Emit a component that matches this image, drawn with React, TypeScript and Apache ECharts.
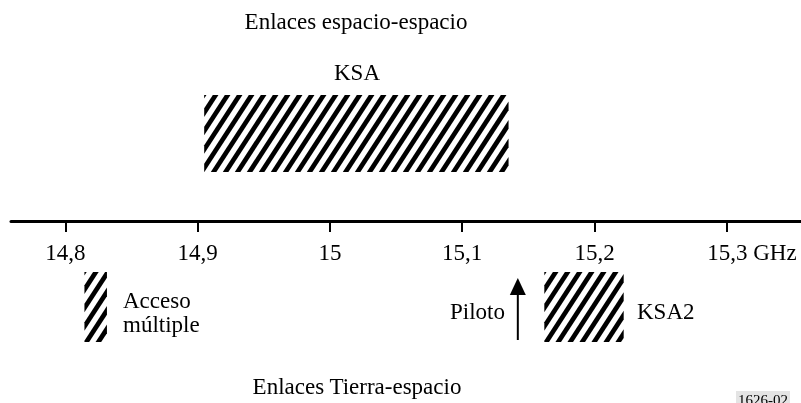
import React, { useEffect, useRef } from "react";
import * as echarts from "echarts";

const freqMin = 14.759;
const freqMax = 15.356;
const tickValues = [14.8, 14.9, 15.0, 15.1, 15.2, 15.3];
const tickLabels = ["14,8", "14,9", "15", "15,1", "15,2", "15,3 GHz"];

const bandNames = ["KSA", "Acceso múltiple", "KSA2"];
const bandStart = [14.905, 14.8145, 15.162];
const bandEnd = [15.135, 14.8315, 15.222];
const bandTop = [126, -51, -51];
const bandBottom = [49, -121, -121];

const pilotFreq = [15.142];
const pilotBottom = [-119];
const pilotTop = [-57];

const FONT = "Liberation Serif, Times New Roman, serif";
const FS = 23;

type P = [number, number];

function clipHalf(pts: P[], g: (p: P) => number): P[] {
  const out: P[] = [];
  for (let i = 0; i < pts.length; i++) {
    const a = pts[i];
    const b = pts[(i + 1) % pts.length];
    const ga = g(a);
    const gb = g(b);
    if (ga >= 0) out.push(a);
    if ((ga >= 0) !== (gb >= 0)) {
      const t = ga / (ga - gb);
      out.push([a[0] + (b[0] - a[0]) * t, a[1] + (b[1] - a[1]) * t]);
    }
  }
  return out;
}

export default function App() {
  const ref = useRef<HTMLDivElement>(null);
  useEffect(() => {
    if (!ref.current) return;
    const chart = echarts.init(ref.current, undefined, { renderer: "svg" });
    const bandData = bandNames.map((n, i) => ({
      name: n,
      value: [bandStart[i], bandEnd[i], bandTop[i], bandBottom[i]],
    }));
    const pilotData = pilotFreq.map((f, i) => [f, pilotBottom[i], pilotTop[i]]);

    const hatch = (params: any, api: any) => {
      const [L, T] = api.coord([api.value(0), api.value(2)]);
      const [R, B] = api.coord([api.value(1), api.value(3)]);
      const k = 0.65;
      const period = 12;
      const w = 5.6;
      const rect: P[] = [
        [L, T],
        [R, T],
        [R, B],
        [L, B],
      ];
      const cMin = L + k * T;
      const cMax = R + k * B;
      const children: any[] = [];
      for (let c = cMin - w * 0.6; c < cMax; c += period) {
        let poly = clipHalf(rect, (p) => p[0] + k * p[1] - c);
        poly = clipHalf(poly, (p) => c + w - (p[0] + k * p[1]));
        if (poly.length >= 3) {
          children.push({
            type: "polygon",
            shape: { points: poly },
            style: { fill: "#000" },
          });
        }
      }
      return { type: "group", children };
    };

    const arrow = (params: any, api: any) => {
      const [x, yb] = api.coord([api.value(0), api.value(1)]);
      const [, yt] = api.coord([api.value(0), api.value(2)]);
      const headH = 17;
      const headW = 16;
      return {
        type: "group",
        children: [
          {
            type: "line",
            shape: { x1: x, y1: yb, x2: x, y2: yt + headH - 1 },
            style: { stroke: "#000", lineWidth: 2 },
          },
          {
            type: "polygon",
            shape: {
              points: [
                [x, yt],
                [x - headW / 2, yt + headH],
                [x + headW / 2, yt + headH],
              ],
            },
            style: { fill: "#000" },
          },
        ],
      };
    };

    const txt = (text: string, x: number, y: number, align: string, size = FS) => ({
      type: "text",
      x,
      y,
      style: {
        text,
        fontFamily: FONT,
        fontSize: size,
        fill: "#000",
        align,
        verticalAlign: "middle",
      },
    });

    chart.setOption({
      animation: false,
      grid: {
        left: 11,
        right: 0,
        top: 0,
        height: 221,
        outerBoundsMode: "none",
        containLabel: false,
      },
      xAxis: {
        type: "value",
        min: freqMin,
        max: freqMax,
        splitLine: { show: false },
        axisLine: { show: true, onZero: false, lineStyle: { color: "#000", width: 3 } },
        axisTick: {
          show: true,
          customValues: tickValues,
          length: 11,
          lineStyle: { color: "#000", width: 2 },
        },
        axisLabel: {
          customValues: tickValues,
          margin: 20,
          color: "#000",
          fontFamily: FONT,
          fontSize: FS,
          formatter: (v: number) => {
            let idx = 0;
            let best = Infinity;
            tickValues.forEach((t, i) => {
              if (Math.abs(t - v) < best) {
                best = Math.abs(t - v);
                idx = i;
              }
            });
            return idx === tickValues.length - 1
              ? "{sp|}" + tickLabels[idx]
              : tickLabels[idx];
          },
          rich: { sp: { width: 50 } },
        },
      },
      yAxis: {
        type: "value",
        min: 0,
        max: 221,
        show: false,
      },
      series: [
        {
          type: "custom",
          name: "bands",
          renderItem: hatch,
          data: bandData,
          encode: { x: [0, 1], y: [2, 3] },
          clip: false,
          silent: true,
        },
        {
          type: "custom",
          name: "pilot",
          renderItem: arrow,
          data: pilotData,
          encode: { x: 0, y: [1, 2] },
          clip: false,
          silent: true,
        },
      ],
      graphic: [
        txt("Enlaces espacio-espacio", 356, 21, "center"),
        txt("KSA", 357, 72, "center"),
        txt("Acceso", 123, 300, "left"),
        txt("múltiple", 123, 324, "left"),
        txt("Piloto", 505, 311, "right"),
        txt("KSA2", 637, 311, "left"),
        txt("Enlaces Tierra-espacio", 357, 386, "center"),
        {
          type: "text",
          x: 736,
          y: 391,
          style: {
            text: "1626-02",
            fontFamily: FONT,
            fontSize: 15,
            fill: "#000",
            align: "left",
            verticalAlign: "top",
            backgroundColor: "#e4e4e4",
            padding: [1, 2, 0, 2],
          },
        },
      ],
    });
    return () => chart.dispose();
  }, []);
  return (
    <div
      ref={ref}
      style={{ position: "fixed", left: 0, top: 0, width: 801, height: 403 }}
    />
  );
}
